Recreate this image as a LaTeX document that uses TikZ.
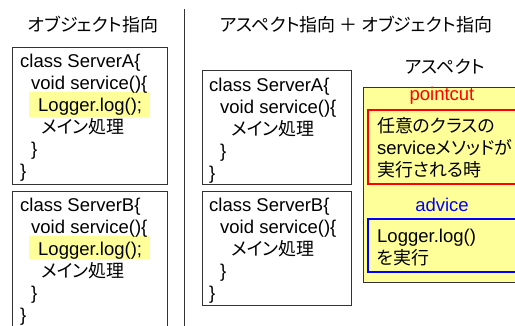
\documentclass[tikz,border=0pt]{standalone}
\usepackage{fontspec}
\setmainfont{Liberation Sans}
\newfontfamily\jp{Noto Sans CJK JP}[Scale=0.97,RawFeature=+palt]
\definecolor{hl}{RGB}{255,255,153}
\begin{document}
\begin{tikzpicture}[x=1pt,y=-1pt,
  txt/.style={anchor=base west,inner sep=0pt,font=\fontsize{18.5}{22}\selectfont},
  ctr/.style={anchor=base,inner sep=0pt,font=\fontsize{18.5}{22}\selectfont},
  box/.style={draw=black!80,line width=0.9pt},
  hlbox/.style={fill=hl}]
\useasboundingbox (0,0) rectangle (515,326);
\clip (0,0) rectangle (515,326);
% divider
\draw[black!80,line width=0.8pt] (184,9) -- (184,330);
% titles
\node[ctr] (t1) at (93,32) {\jp オブジェクト指向};
\node[ctr] (t2) at (356,32) {\jp アスペクト指向 ＋ オブジェクト指向};
% left A
\fill[hlbox] (29,92) rectangle (150,117);
\draw[box] (12,47) rectangle (167,184);
\node[txt] (la1) at (20,68) {class ServerA\{};
\node[txt] (la2) at (31,90) {void service()\{};
\node[txt] (la3) at (38,112) {Logger.log();};
\node[txt] (la4) at (41,134) {\jp メイン処理};
\node[txt] (la5) at (31,156) {\}};
\node[txt] (la6) at (20,178) {\}};
% left B
\fill[hlbox] (29,236) rectangle (150,259);
\draw[box] (12,191) rectangle (167,330);
\node[txt] (lb1) at (20,212) {class ServerB\{};
\node[txt] (lb2) at (31,234) {void service()\{};
\node[txt] (lb3) at (38,256) {Logger.log();};
\node[txt] (lb4) at (41,278) {\jp メイン処理};
\node[txt] (lb5) at (31,300) {\}};
\node[txt] (lb6) at (20,322) {\}};
% right A
\draw[box] (202,70) rectangle (351,184);
\node[txt] (ra1) at (209,92) {class ServerA\{};
\node[txt] (ra2) at (220,114) {void service()\{};
\node[txt] (ra3) at (231,136) {\jp メイン処理};
\node[txt] (ra4) at (220,158) {\}};
\node[txt] (ra5) at (209,180) {\}};
% right B
\draw[box] (202,191) rectangle (351,305);
\node[txt] (rb1) at (209,212) {class ServerB\{};
\node[txt] (rb2) at (220,234) {void service()\{};
\node[txt] (rb3) at (231,256) {\jp メイン処理};
\node[txt] (rb4) at (220,278) {\}};
\node[txt] (rb5) at (209,300) {\}};
% aspect
\node[ctr] (asp) at (445,74) {\jp アスペクト};
\draw[box,fill=hl] (363,87) rectangle (530,282);
\node[ctr,text=red] (pc) at (442,101) {pointcut};
\draw[red,line width=1.2pt] (368,110) rectangle (530,184);
\node[txt] (p1) at (377,133) {\jp 任意のクラスの};
\node[txt] (p2) at (377,155) {service{\jp メソッドが}};
\node[txt] (p3) at (377,177) {\jp 実行される時};
\node[ctr,text=blue] (ad) at (442,212) {advice};
\draw[blue,line width=1.2pt] (368,219) rectangle (530,272);
\node[txt] (a1) at (377,243) {Logger.log()};
\node[txt] (a2) at (377,265) {\jp を実行};
\end{tikzpicture}
\end{document}
